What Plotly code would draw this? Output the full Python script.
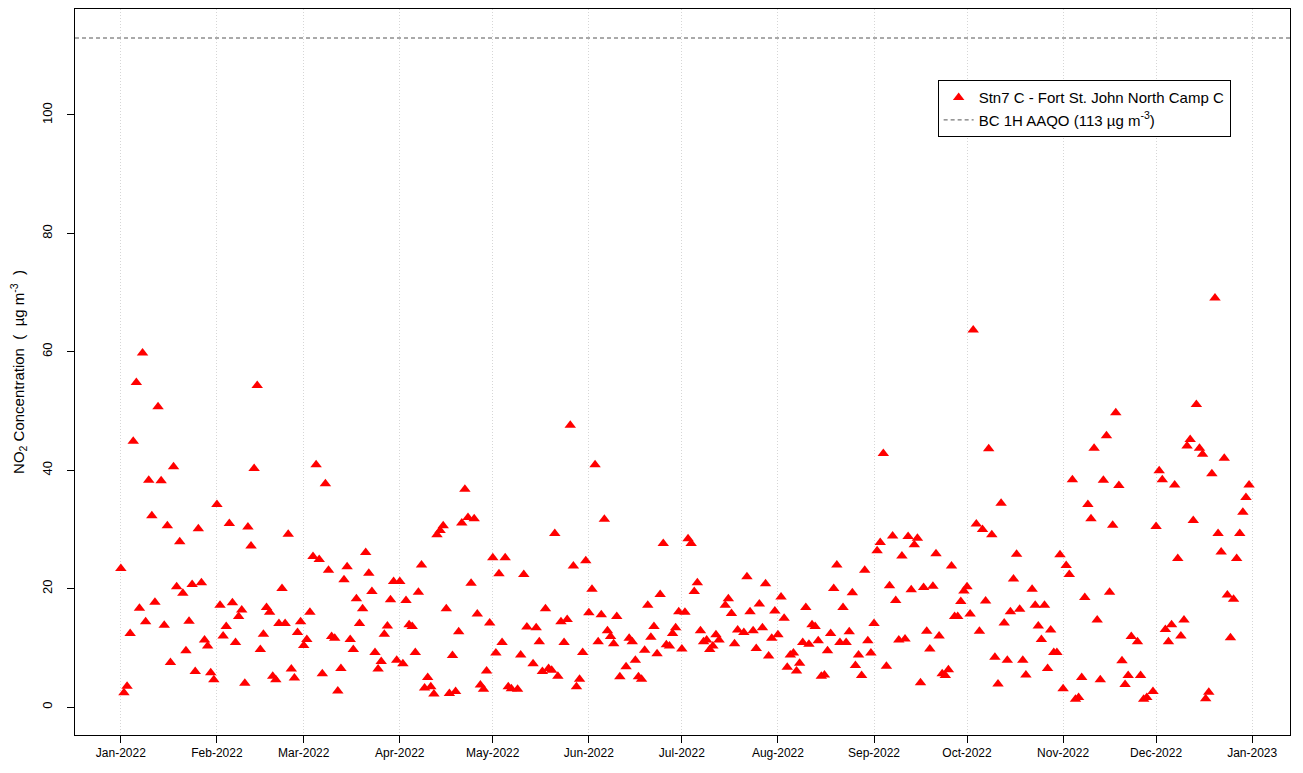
import pandas as pd
import plotly.graph_objects as go

# Daily NO2 concentrations (ug/m3), one list per month of 2022; None = no data
jan_vals = [23.4, 2.4, 3.5, 12.4, 44.9, 54.8, 16.7, 59.8, 14.4, 38.3, 32.3, 17.7, 50.7, 38.2, 13.8, 30.6,
            7.5, 40.6, 20.3, 27.9, 19.2, 9.5, 14.5, 20.7, 6.0, 30.1, 21.0, 11.3, 10.3, 5.8, 4.6]
feb_vals = [34.2, 17.2, 12.0, 13.6, 31.0, 17.6, 10.9, 15.3, 16.4, 4.0, 30.4, 27.2, 40.3, 54.3, 9.7, 12.3,
            16.8, 16.0, 5.2, 4.6, 14.1, 20.0, 14.1, 29.2, 6.4, 4.9, 12.6, 14.4]
mar_vals = [10.4, 11.4, 16.0, 25.4, 40.9, 24.9, 5.6, 37.7, 23.1, 11.9, 11.6, 2.7, 6.5, 21.5, 23.7, 11.4,
            9.7, 18.3, 14.1, 16.6, 26.1, 22.6, 19.5, 9.2, 6.4, 7.7, 12.3, 13.7, 18.1, 21.2, 7.9]
apr_vals = [21.2, 7.3, 18.0, 13.9, 13.6, 9.2, 19.4, 24.0, 3.2, 5.0, 3.4, 2.2, 29.1, 29.8, 30.6, 16.6,
            2.3, 8.7, 2.6, 12.7, 31.1, 36.8, 32.0, 20.9, 31.8, 15.7, 3.7, 3.0, 6.1, 14.2]
may_vals = [25.2, 9.1, 22.5, 10.9, 25.2, 3.4, 3.1, None, 3.0, 8.8, 22.4, 13.5, None, 7.3, 13.4, 11.0,
            6.0, 16.6, 6.5, 6.2, 29.3, 5.2, 14.4, 10.9, 14.8, 47.6, 23.8, 3.4, 4.7, 9.2, 24.7]
jun_vals = [15.9, 19.9, 40.9, 11.0, 15.6, 31.7, 12.9, 11.9, 10.7, 15.3, 5.1, None, 6.8, 11.6, 11.0, 7.9,
            5.1, 4.7, 9.6, 17.2, 11.8, 13.6, 9.0, 19.0, 27.6, 10.5, 10.3, 12.4, 13.4, 16.1]
jul_vals = [9.8, 16.0, 28.4, 27.6, 19.5, 21.0, 12.9, 11.0, 11.3, 9.7, 10.3, 12.2, 11.3, None, 17.2, 18.3,
            15.8, 10.7, 13.0, None, 12.6, 22.0, 16.1, 12.9, 9.9, 17.4, 13.4, 20.8, 8.6, 11.6, 16.2]
aug_vals = [12.2, 18.6, 15.0, 6.7, 8.8, 9.1, 6.1, 7.4, 10.9, 16.8, 10.6, 13.9, 13.6, 11.2, 5.2, 5.4,
            9.5, 12.4, 20.0, 24.0, 10.9, 16.8, 10.9, 12.7, 19.3, 7.0, 8.8, 5.3, 23.1, 11.2, 9.1]
sep_vals = [14.1, 26.4, 27.8, 42.8, 6.9, 20.5, 28.9, 18.0, 11.3, 25.5, 11.5, 28.8, 19.8, 27.4, 28.5, 4.1,
            20.2, 12.8, 9.8, 20.4, 25.9, 12.0, 5.6, 5.3, 6.3, 23.8, 15.3, 15.3, 17.8, 19.6]
oct_vals = [20.3, 15.7, 63.7, 30.9, 12.8, 30.0, 17.9, 43.6, 29.1, 8.4, 3.9, 34.4, 14.2, 7.9, 16.1, 21.6,
            25.8, 16.5, 7.9, 5.4, None, 19.9, 17.2, 13.7, 11.4, 17.2, 6.5, 13.0, 9.2, 9.2, 25.7]
nov_vals = [3.1, 23.9, 22.4, 38.4, 1.3, 1.6, 5.0, 18.5, 34.2, 31.8, 43.7, 14.7, 4.6, 38.3, 45.8, 19.4,
            30.7, 49.7, 37.4, 7.8, 3.8, 5.3, 11.9, None, 11.0, 5.3, 1.3, 1.6, None, 2.6]
dec_vals = [30.5, 39.9, 38.4, 13.1, 11.0, 13.9, 37.5, 25.1, 12.0, 14.7, 44.1, 45.2, 31.5, 51.1, 43.7, 42.7,
            1.4, 2.5, 39.4, 69.1, 29.3, 26.2, 42.0, 18.9, 11.7, 18.2, 25.1, 29.3, 32.9, 35.4, 37.5]

months = ["2022-01", "2022-02", "2022-03", "2022-04", "2022-05", "2022-06",
          "2022-07", "2022-08", "2022-09", "2022-10", "2022-11", "2022-12"]
monthly = [jan_vals, feb_vals, mar_vals, apr_vals, may_vals, jun_vals,
           jul_vals, aug_vals, sep_vals, oct_vals, nov_vals, dec_vals]

threshold = 113
series_name = "Stn7 C - Fort St. John North Camp C"
threshold_name = "BC 1H AAQO (113 \u00b5g m<sup>-3</sup>)"
y_title = "NO<sub>2</sub> Concentration \u00a0( \u00a0\u00b5g m<sup>-3</sup>\u00a0 )"
y_ticks = [0, 20, 40, 60, 80, 100]

dates, values = [], []
for m, vals in zip(months, monthly):
    d = pd.date_range(m + "-01", periods=len(vals), freq="D")
    dates.extend(d)
    values.extend(vals)

x_range = ["2021-12-17 05:00", "2023-01-13 05:00"]
y_range = [-4.73, 117.9]

font = "Liberation Sans, Arial, sans-serif"

fig = go.Figure()
fig.add_trace(go.Scatter(
    x=dates, y=values, mode="markers", name=series_name,
    marker=dict(symbol="triangle-up", size=10, color="#FF0000"),
))
fig.add_trace(go.Scatter(
    x=x_range, y=[threshold, threshold], mode="lines", name=threshold_name,
    line=dict(color="#555555", width=1, dash="4px,3px"),
))

fig.update_layout(
    width=1287, height=757,
    margin=dict(l=67, r=5, t=1, b=30),
    paper_bgcolor="white", plot_bgcolor="white",
    font=dict(family=font, size=12, color="black"),
    showlegend=True,
    legend=dict(
        x=0.710, y=0.902, xanchor="left", yanchor="top",
        bordercolor="black", borderwidth=1, bgcolor="white",
        font=dict(family=font, size=15, color="black"),
        tracegroupgap=0,
    ),
)
fig.update_xaxes(
    type="date", range=x_range,
    tick0="2022-01-01", dtick="M1", tickformat="%b-%Y",
    showgrid=True, gridcolor="#D6D6D6", griddash="1px,2px", gridwidth=1,
    showline=True, mirror=True, linecolor="black", linewidth=1,
    ticks="outside", ticklen=7, tickcolor="black",
    tickfont=dict(size=12), zeroline=False, automargin=False,
)
fig.update_yaxes(
    range=y_range, tickvals=y_ticks, tickangle=-90,
    showgrid=False, zeroline=False,
    showline=True, mirror=True, linecolor="black", linewidth=1,
    ticks="outside", ticklen=7, tickcolor="black",
    tickfont=dict(size=13), ticklabelstandoff=10, automargin=False,
    title=dict(text=y_title, font=dict(size=15), standoff=12),
)

fig.write_html("out.html")
